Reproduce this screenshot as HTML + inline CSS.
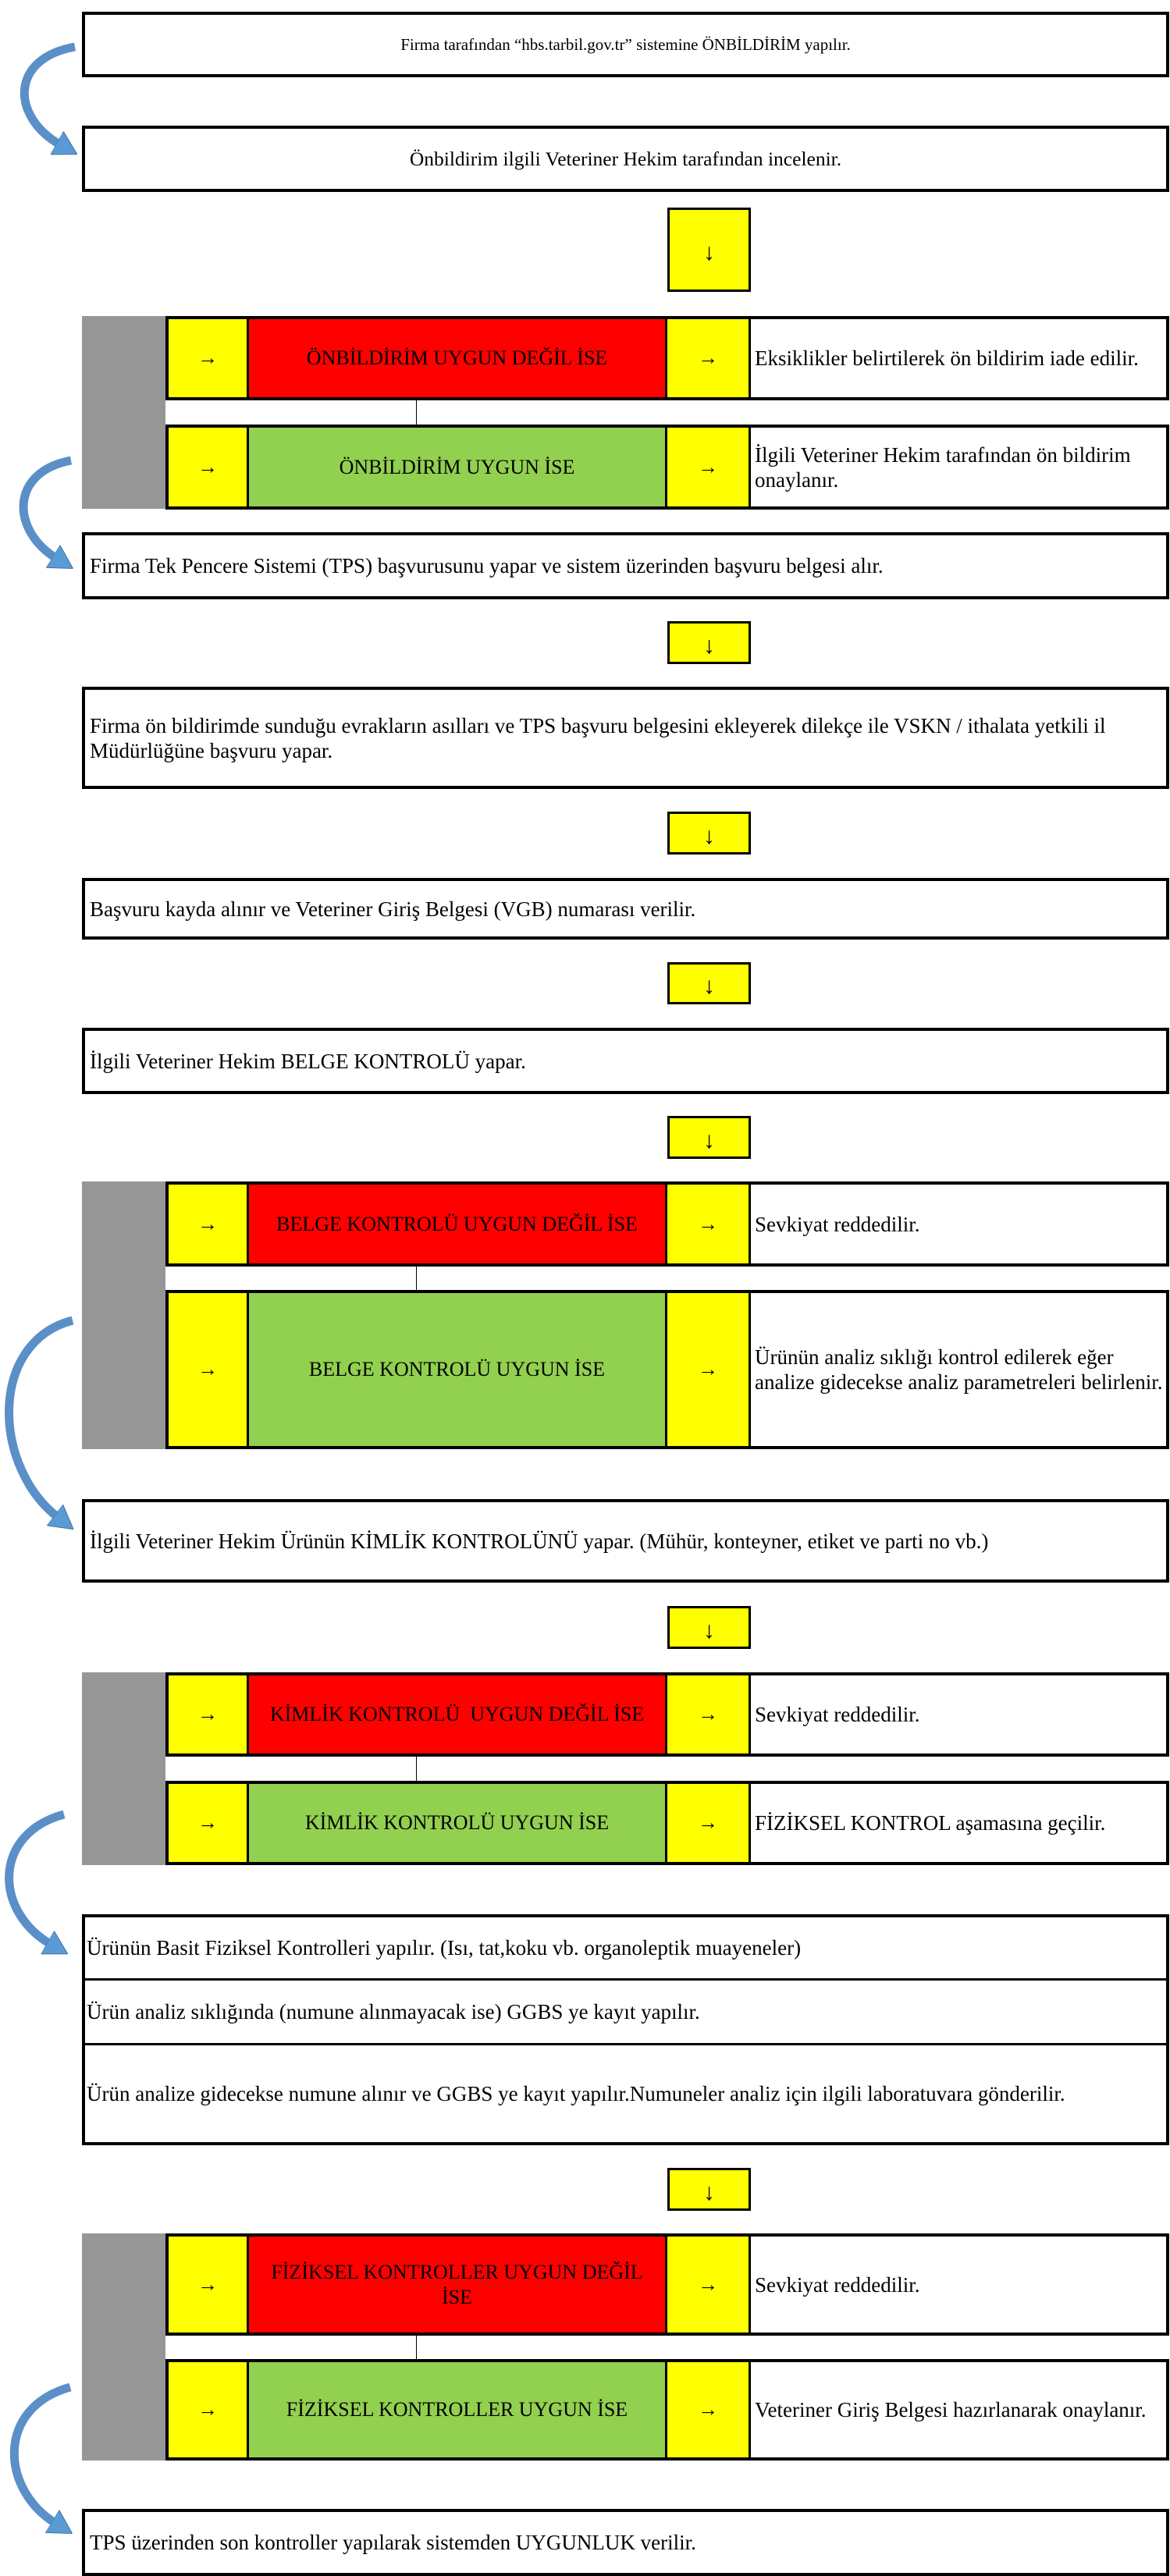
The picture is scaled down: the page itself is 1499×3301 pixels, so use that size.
<!DOCTYPE html>
<html><head><meta charset="utf-8">
<style>
html,body{margin:0;padding:0;background:#fff;}
body{width:1499px;height:3301px;position:relative;overflow:hidden;font-family:"Liberation Serif",serif;color:#000;}
.box{position:absolute;left:105px;width:1393px;border:4px solid #000;box-sizing:border-box;display:flex;align-items:center;padding-left:6px;font-size:27px;line-height:32px;background:#fff;white-space:nowrap;}
.c{justify-content:center;padding-left:0;}
.dn{position:absolute;left:855px;width:107px;background:#ff0;border:3px solid #000;box-sizing:border-box;display:flex;align-items:center;justify-content:center;font-size:30px;padding-top:8px;}
.gray{position:absolute;left:105px;width:107px;background:#969696;}
.row{position:absolute;left:212px;width:1286px;border:4px solid #000;box-sizing:border-box;display:flex;font-size:26px;line-height:32px;}
.row>div{box-sizing:border-box;border-right:3px solid #000;display:flex;align-items:center;justify-content:center;text-align:center;white-space:nowrap;}
.row>div.y{width:103px;background:#ff0;}
.row>div.r{width:536px;background:#f00;}
.row>div.g{width:536px;background:#92d050;}
.row>div.y2{width:107px;background:#ff0;}
.row>div.w{flex:1;border-right:none;background:#fff;justify-content:flex-start;text-align:left;padding-left:5px;font-size:27px;}
.ln{position:absolute;left:533px;width:1px;background:#000;}
.hl{position:absolute;left:109px;width:1385px;height:3px;background:#000;}
.t{position:absolute;left:111px;display:flex;align-items:center;font-size:27px;white-space:nowrap;}
</style></head><body>

<div class="box c" style="top:15px;height:84px;font-size:21px;">Firma tarafından “hbs.tarbil.gov.tr” sistemine ÖNBİLDİRİM yapılır.</div>
<div class="box c" style="top:161px;height:85px;font-size:25.5px;">Önbildirim ilgili Veteriner Hekim tarafından incelenir.</div>
<div class="dn" style="top:266px;height:108px;">↓</div>

<div class="gray" style="top:405px;height:247px;"></div>
<div class="row" style="top:405px;height:108px;"><div class="y">→</div><div class="r">ÖNBİLDİRİM UYGUN DEĞİL İSE</div><div class="y2">→</div><div class="w">Eksiklikler belirtilerek ön bildirim iade edilir.</div></div>
<div class="ln" style="top:513px;height:31px;"></div>
<div class="row" style="top:544px;height:109px;"><div class="y">→</div><div class="g">ÖNBİLDİRİM UYGUN İSE</div><div class="y2">→</div><div class="w">İlgili Veteriner Hekim tarafından ön bildirim<br>onaylanır.</div></div>

<div class="box" style="top:682px;height:86px;">Firma Tek Pencere Sistemi (TPS) başvurusunu yapar ve sistem üzerinden başvuru belgesi alır.</div>
<div class="dn" style="top:796px;height:55px;">↓</div>
<div class="box" style="top:880px;height:131px;">Firma ön bildirimde sunduğu evrakların asılları ve TPS başvuru belgesini ekleyerek dilekçe ile VSKN / ithalata yetkili il<br>Müdürlüğüne başvuru yapar.</div>
<div class="dn" style="top:1040px;height:55px;">↓</div>
<div class="box" style="top:1125px;height:79px;">Başvuru kayda alınır ve Veteriner Giriş Belgesi (VGB) numarası verilir.</div>
<div class="dn" style="top:1233px;height:54px;">↓</div>
<div class="box" style="top:1317px;height:85px;">İlgili Veteriner Hekim BELGE KONTROLÜ yapar.</div>
<div class="dn" style="top:1430px;height:55px;">↓</div>

<div class="gray" style="top:1514px;height:343px;"></div>
<div class="row" style="top:1514px;height:109px;"><div class="y">→</div><div class="r">BELGE KONTROLÜ UYGUN DEĞİL İSE</div><div class="y2">→</div><div class="w">Sevkiyat reddedilir.</div></div>
<div class="ln" style="top:1623px;height:30px;"></div>
<div class="row" style="top:1653px;height:204px;"><div class="y">→</div><div class="g">BELGE KONTROLÜ UYGUN İSE</div><div class="y2">→</div><div class="w">Ürünün analiz sıklığı kontrol edilerek eğer<br>analize gidecekse analiz parametreleri belirlenir.</div></div>

<div class="box" style="top:1921px;height:107px;">İlgili Veteriner Hekim Ürünün KİMLİK KONTROLÜNÜ yapar. (Mühür, konteyner, etiket ve parti no vb.)</div>
<div class="dn" style="top:2058px;height:55px;">↓</div>

<div class="gray" style="top:2143px;height:247px;"></div>
<div class="row" style="top:2143px;height:108px;"><div class="y">→</div><div class="r">KİMLİK KONTROLÜ&nbsp; UYGUN DEĞİL İSE</div><div class="y2">→</div><div class="w">Sevkiyat reddedilir.</div></div>
<div class="ln" style="top:2251px;height:31px;"></div>
<div class="row" style="top:2282px;height:108px;"><div class="y">→</div><div class="g">KİMLİK KONTROLÜ UYGUN İSE</div><div class="y2">→</div><div class="w">FİZİKSEL KONTROL aşamasına geçilir.</div></div>

<div class="box" style="top:2453px;height:296px;padding:0;"></div>
<div class="hl" style="top:2535px;"></div>
<div class="hl" style="top:2618px;"></div>
<div class="t" style="top:2457px;height:78px;">Ürünün Basit Fiziksel Kontrolleri yapılır. (Isı, tat,koku vb. organoleptik muayeneler)</div>
<div class="t" style="top:2538px;height:80px;">Ürün analiz sıklığında (numune alınmayacak ise) GGBS ye kayıt yapılır.</div>
<div class="t" style="top:2621px;height:124px;">Ürün analize gidecekse numune alınır ve GGBS ye kayıt yapılır.Numuneler analiz için ilgili laboratuvara gönderilir.</div>
<div class="dn" style="top:2778px;height:55px;">↓</div>

<div class="gray" style="top:2862px;height:291px;"></div>
<div class="row" style="top:2862px;height:131px;"><div class="y">→</div><div class="r">FİZİKSEL KONTROLLER UYGUN DEĞİL<br>İSE</div><div class="y2">→</div><div class="w">Sevkiyat reddedilir.</div></div>
<div class="ln" style="top:2993px;height:30px;"></div>
<div class="row" style="top:3023px;height:130px;"><div class="y">→</div><div class="g">FİZİKSEL KONTROLLER UYGUN İSE</div><div class="y2">→</div><div class="w">Veteriner Giriş Belgesi hazırlanarak onaylanır.</div></div>

<div class="box" style="top:3215px;height:86px;">TPS üzerinden son kontroller yapılarak sistemden UYGUNLUK verilir.</div>

<svg width="1499" height="3301" style="position:absolute;left:0;top:0;" xmlns="http://www.w3.org/2000/svg">
<defs>
<marker id="ah" markerUnits="userSpaceOnUse" markerWidth="30" markerHeight="34" refX="6" refY="17" orient="auto">
<path d="M0,0 L30,17 L0,34 Z" fill="#5b9bd5" stroke="#41719c" stroke-width="1"/>
</marker>
</defs>
<g fill="none" stroke="#5b8fc8" stroke-width="11" marker-end="url(#ah)">
<path d="M96,60 C12,75 14,150 78,186"/>
<path d="M91,590 C12,605 14,680 73,716"/>
<path d="M93,1692 C-15,1720 -10,1880 75,1945"/>
<path d="M82,2325 C-10,2350 -8,2450 66,2492"/>
<path d="M90,3059 C-5,3085 0,3190 72,3234"/>
</g>
</svg>
</body></html>
